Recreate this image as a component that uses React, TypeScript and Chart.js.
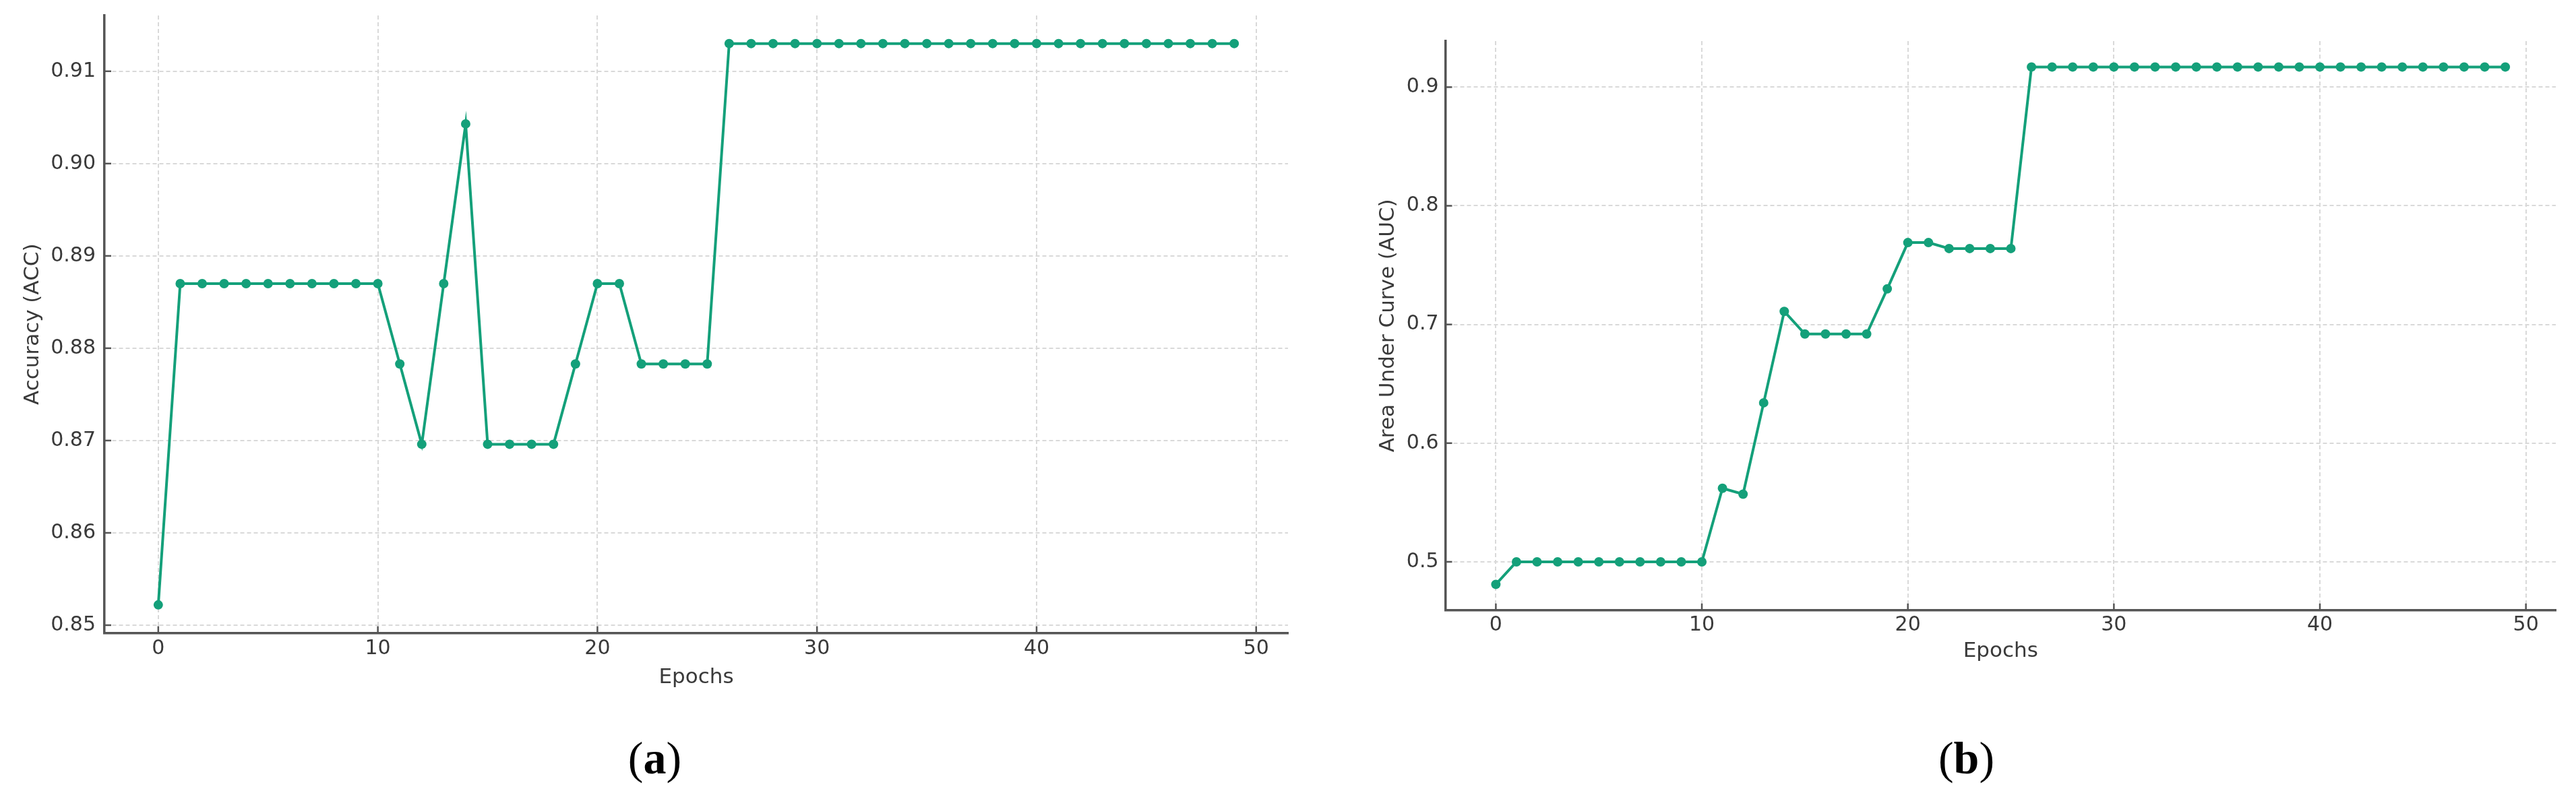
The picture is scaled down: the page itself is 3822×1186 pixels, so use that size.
import React, { useEffect, useRef } from "react";
import { Chart, registerables } from "chart.js";

Chart.register(...registerables);

// ---------- data ----------
const epochs = [
  0, 1, 2, 3, 4, 5, 6, 7, 8, 9, 10, 11, 12, 13, 14, 15, 16, 17, 18, 19, 20, 21, 22, 23, 24,
  25, 26, 27, 28, 29, 30, 31, 32, 33, 34, 35, 36, 37, 38, 39, 40, 41, 42, 43, 44, 45, 46, 47, 48, 49,
];

const accValues = [
  0.8522,
  0.887, 0.887, 0.887, 0.887, 0.887, 0.887, 0.887, 0.887, 0.887, 0.887,
  0.8783, 0.8696, 0.887, 0.9043,
  0.8696, 0.8696, 0.8696, 0.8696,
  0.8783, 0.887, 0.887,
  0.8783, 0.8783, 0.8783, 0.8783,
  0.913, 0.913, 0.913, 0.913, 0.913, 0.913, 0.913, 0.913, 0.913, 0.913, 0.913, 0.913,
  0.913, 0.913, 0.913, 0.913, 0.913, 0.913, 0.913, 0.913, 0.913, 0.913, 0.913, 0.913,
];

const aucValues = [
  0.481,
  0.5, 0.5, 0.5, 0.5, 0.5, 0.5, 0.5, 0.5, 0.5, 0.5,
  0.562, 0.557, 0.634, 0.711,
  0.692, 0.692, 0.692, 0.692,
  0.73, 0.769, 0.769,
  0.764, 0.764, 0.764, 0.764,
  0.917, 0.917, 0.917, 0.917, 0.917, 0.917, 0.917, 0.917, 0.917, 0.917, 0.917, 0.917,
  0.917, 0.917, 0.917, 0.917, 0.917, 0.917, 0.917, 0.917, 0.917, 0.917, 0.917, 0.917,
];

const xTickValues = [0, 10, 20, 30, 40, 50];
const accTickValues = [0.85, 0.86, 0.87, 0.88, 0.89, 0.9, 0.91];
const aucTickValues = [0.5, 0.6, 0.7, 0.8, 0.9];

const xTitle = "Epochs";
const accTitle = "Accuracy (ACC)";
const aucTitle = "Area Under Curve (AUC)";

// ---------- styles ----------
const LINE_COLOR = "#14a07a";
const AXIS_COLOR = "#555555";
const GRID_COLOR = "#d9d9d9";
const TEXT_COLOR = "#3a3a3a";
const FONT = "'DejaVu Sans', sans-serif";

const inwardTicks = {
  id: "inwardTicks",
  afterDatasetsDraw(chart: any) {
    const { ctx, chartArea } = chart;
    const len = 10;
    ctx.save();
    ctx.strokeStyle = AXIS_COLOR;
    ctx.lineWidth = 2.5;
    const xs = chart.scales.x;
    xs.ticks.forEach((t: any) => {
      const px = xs.getPixelForValue(t.value);
      ctx.beginPath();
      ctx.moveTo(px, chartArea.bottom);
      ctx.lineTo(px, chartArea.bottom - len);
      ctx.stroke();
    });
    const ys = chart.scales.y;
    ys.ticks.forEach((t: any) => {
      const py = ys.getPixelForValue(t.value);
      ctx.beginPath();
      ctx.moveTo(chartArea.left, py);
      ctx.lineTo(chartArea.left + len, py);
      ctx.stroke();
    });
    ctx.restore();
  },
};

type PanelProps = {
  left: number;
  width: number;
  height: number;
  values: number[];
  yTicks: number[];
  decimals: number;
  yTitle: string;
  yAxisWidth: number;
  yTickPad: number;
  yTitlePad: number;
  xTickPad: number;
  xTitlePad: number;
  padTop: number;
  padRight: number;
  padBottom: number;
};

function Panel(p: PanelProps) {
  const ref = useRef<HTMLCanvasElement | null>(null);
  useEffect(() => {
    if (!ref.current) return;
    const lo = Math.min(...p.values);
    const hi = Math.max(...p.values);
    const m = (hi - lo) * 0.05;
    const xLo = Math.min(...epochs);
    const xHi = Math.max(...epochs);
    const xm = (xHi - xLo) * 0.05;
    const zeroPad = (s: any) => {
      s.paddingTop = 0;
      s.paddingBottom = 0;
      s.paddingLeft = 0;
      s.paddingRight = 0;
    };
    const chart = new Chart(ref.current, {
      type: "line",
      data: {
        datasets: [
          {
            data: epochs.map((e, i) => ({ x: e, y: p.values[i] })),
            borderColor: LINE_COLOR,
            backgroundColor: LINE_COLOR,
            borderWidth: 4,
            pointRadius: 7,
            pointBorderWidth: 0,
            pointBackgroundColor: LINE_COLOR,
            tension: 0,
            fill: false,
          },
        ],
      },
      options: {
        animation: false,
        responsive: false,
        maintainAspectRatio: false,
        devicePixelRatio: 1,
        layout: {
          padding: { left: 0, top: p.padTop, right: p.padRight, bottom: p.padBottom },
        },
        plugins: {
          legend: { display: false },
          tooltip: { enabled: false },
        },
        scales: {
          x: {
            type: "linear",
            min: xLo - xm,
            max: xHi + xm,
            afterBuildTicks: (s: any) => {
              s.ticks = xTickValues.map((v) => ({ value: v }));
            },
            afterFit: (s: any) => {
              s.height = 100;
              zeroPad(s);
            },
            ticks: {
              autoSkip: false,
              maxRotation: 0,
              minRotation: 0,
              padding: p.xTickPad,
              color: TEXT_COLOR,
              font: { family: FONT, size: 30 },
              callback: (v: any) => String(v),
            },
            grid: {
              color: GRID_COLOR,
              lineWidth: 2,
              drawTicks: false,
            },
            border: { display: true, color: AXIS_COLOR, width: 3.5, dash: [6, 4] },
            title: {
              display: true,
              text: xTitle,
              color: TEXT_COLOR,
              font: { family: FONT, size: 31 },
              padding: { top: 0, bottom: p.xTitlePad },
            },
          },
          y: {
            type: "linear",
            min: lo - m,
            max: hi + m,
            afterBuildTicks: (s: any) => {
              s.ticks = p.yTicks.map((v) => ({ value: v }));
            },
            afterFit: (s: any) => {
              s.width = p.yAxisWidth;
              zeroPad(s);
            },
            ticks: {
              autoSkip: false,
              padding: p.yTickPad,
              color: TEXT_COLOR,
              font: { family: FONT, size: 30 },
              callback: (v: any) => Number(v).toFixed(p.decimals),
            },
            grid: {
              color: GRID_COLOR,
              lineWidth: 2,
              drawTicks: false,
            },
            border: { display: true, color: AXIS_COLOR, width: 3.5, dash: [6, 4] },
            title: {
              display: true,
              text: p.yTitle,
              color: TEXT_COLOR,
              font: { family: FONT, size: 31 },
              padding: { top: p.yTitlePad, bottom: 0 },
            },
          },
        },
      },
      plugins: [inwardTicks],
    } as any);
    return () => chart.destroy();
  }, []);
  return (
    <canvas
      ref={ref}
      width={p.width}
      height={p.height}
      style={{ position: "absolute", left: p.left, top: 0, width: p.width, height: p.height }}
    />
  );
}

const captionStyle = (cx: number): React.CSSProperties => ({
  position: "absolute",
  left: cx - 200,
  top: 1091,
  width: 400,
  textAlign: "center",
  fontFamily: "'Liberation Serif', 'DejaVu Serif', serif",
  fontSize: 68,
  lineHeight: "68px",
  color: "#000",
});

export default function App() {
  return (
    <div
      style={{
        position: "absolute",
        left: 0,
        top: 0,
        width: 3822,
        height: 1186,
        background: "#ffffff",
        overflow: "hidden",
      }}
    >
      <Panel
        left={0}
        width={1960}
        height={1186}
        values={accValues}
        yTicks={accTickValues}
        decimals={2}
        yTitle={accTitle}
        yAxisWidth={155}
        yTickPad={13}
        yTitlePad={30}
        xTickPad={6}
        xTitlePad={15}
        padTop={23}
        padRight={49}
        padBottom={146.5}
      />
      <Panel
        left={1960}
        width={1862}
        height={1186}
        values={aucValues}
        yTicks={aucTickValues}
        decimals={1}
        yTitle={aucTitle}
        yAxisWidth={184.5}
        yTickPad={10}
        yTitlePad={81}
        xTickPad={4}
        xTitlePad={20.5}
        padTop={61}
        padRight={30}
        padBottom={180.2}
      />
      <div style={captionStyle(971.5)}>
        (<b>a</b>)
      </div>
      <div style={captionStyle(2917.5)}>
        (<b>b</b>)
      </div>
    </div>
  );
}
